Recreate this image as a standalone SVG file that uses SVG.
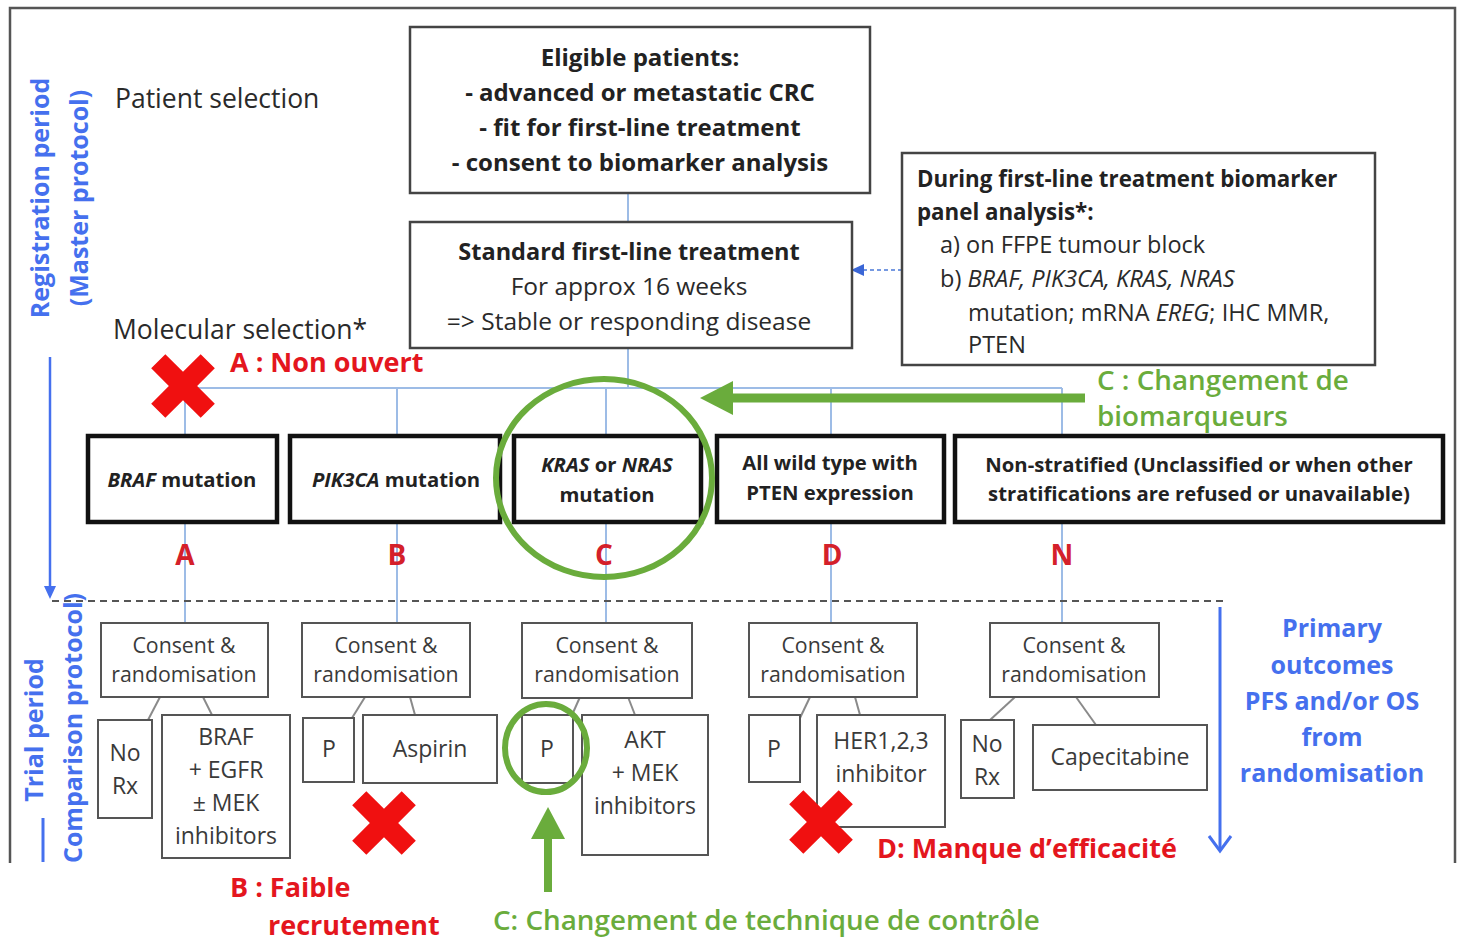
<svg xmlns="http://www.w3.org/2000/svg" width="1462" height="942" viewBox="0 0 1462 942">
  <style>
    text { font-family: "Open Sans", "Liberation Sans", sans-serif; }
    .frame { fill: none; stroke: #555; stroke-width: 2.5; }
    .box { fill: #fff; stroke: #444; stroke-width: 2.5; }
    .strat { fill: #fff; stroke: #111; stroke-width: 4.5; }
    .small { fill: #fff; stroke: #555; stroke-width: 2; }
    .link { fill: none; stroke: #9dbce6; stroke-width: 2; }
    .branch { fill: none; stroke: #8a8a8a; stroke-width: 2; }
    .t { fill: #2a2a2a; }
    .tb { fill: #222; font-weight: 700; }
    .tc { fill: #3a3a3a; font-size: 21.3px; }
    .ts { fill: #3a3a3a; font-size: 23px; }
    .tk { fill: #222; font-weight: 700; font-size: 20.3px; }
    .red { fill: #e4161e; font-weight: 700; font-size: 27px; }
    .letter { fill: #d4202a; font-weight: 700; font-size: 28px; text-anchor: middle; }
    .green { fill: #6aac3c; font-size: 27.8px; font-weight: 600; }
    .blue { fill: #4570ee; font-weight: 700; font-size: 25px; }
    .mid { text-anchor: middle; }
  </style>
  <defs>
    <!-- heavy red cross -->
    <polygon id="cross" fill="#f01010" points="-10,-35 10,-35 10,-10 35,-10 35,10 10,10 10,35 -10,35 -10,10 -35,10 -35,-10 -10,-10" transform="rotate(45)"/>
  </defs>

  <rect width="1462" height="942" fill="#fff"/>

  <!-- outer frame (open at the bottom) -->
  <polyline class="frame" points="10,863 10,8 1455,8 1455,863"/>

  <!-- side labels -->
  <g id="side-labels">
    <text class="blue" transform="translate(49,198) rotate(-90)" text-anchor="middle" font-size="24.7">Registration period</text>
    <text class="blue" transform="translate(88,198) rotate(-90)" text-anchor="middle" font-size="24.7">(Master protocol)</text>
    <text class="blue" transform="translate(43,730) rotate(-90)" text-anchor="middle" font-size="24">Trial period</text>
    <line x1="43" y1="818" x2="43" y2="862" stroke="#4570ee" stroke-width="3"/>
    <text class="blue" transform="translate(82,728) rotate(-90)" text-anchor="middle" font-size="24">Comparison protocol)</text>
    <text class="t" x="115" y="108" font-size="26.5">Patient selection</text>
    <text class="t" x="113" y="339" font-size="26.5">Molecular selection*</text>
  </g>

  <!-- connectors -->
  <g id="connectors">
    <line class="link" x1="628" y1="193" x2="628" y2="222"/>
    <line class="link" x1="628" y1="348" x2="628" y2="388"/>
    <line class="link" x1="185" y1="388" x2="1062" y2="388"/>
    <line class="link" x1="185" y1="388" x2="185" y2="625"/>
    <line class="link" x1="397" y1="388" x2="397" y2="625"/>
    <line class="link" x1="606" y1="388" x2="606" y2="625"/>
    <line class="link" x1="831" y1="388" x2="831" y2="625"/>
    <line class="link" x1="1062" y1="388" x2="1062" y2="625"/>
    <!-- biomarker panel feeds the first-line treatment -->
    <line x1="902" y1="270" x2="862" y2="270" stroke="#4a78d8" stroke-width="1.5" stroke-dasharray="4 3"/>
    <polygon points="851,270 864,264 864,276" fill="#3a66d6"/>
    <!-- randomisation branches -->
    <line class="branch" x1="160" y1="697" x2="148" y2="720"/>
    <line class="branch" x1="203" y1="697" x2="212" y2="715"/>
    <line class="branch" x1="365" y1="697" x2="352" y2="718"/>
    <line class="branch" x1="410" y1="697" x2="415" y2="715"/>
    <line class="branch" x1="580" y1="697" x2="572" y2="715"/>
    <line class="branch" x1="628" y1="697" x2="635" y2="715"/>
    <line class="branch" x1="810" y1="697" x2="800" y2="718"/>
    <line class="branch" x1="855" y1="697" x2="860" y2="715"/>
    <line class="branch" x1="1015" y1="697" x2="990" y2="720"/>
    <line class="branch" x1="1076" y1="697" x2="1096" y2="725"/>
    <!-- period separator -->
    <line x1="52" y1="601" x2="1226" y2="601" stroke="#555" stroke-width="2" stroke-dasharray="7 5"/>
    <!-- period arrows -->
    <line x1="50" y1="357" x2="50" y2="590" stroke="#4570ee" stroke-width="2.5"/>
    <polygon points="50,599 44,586 56,586" fill="#4570ee"/>
    <line x1="1220" y1="607" x2="1220" y2="850" stroke="#4570ee" stroke-width="3"/>
    <polyline points="1209,836 1220,851 1231,836" fill="none" stroke="#4570ee" stroke-width="3"/>
  </g>

  <g id="eligible">
    <rect class="box" x="410" y="27" width="460" height="166"/>
    <text class="tb mid" x="640" y="66" font-size="24">Eligible patients:</text>
    <text class="tb mid" x="640" y="101" font-size="24">- advanced or metastatic CRC</text>
    <text class="tb mid" x="640" y="136" font-size="24">- fit for first-line treatment</text>
    <text class="tb mid" x="640" y="171" font-size="24">- consent to biomarker analysis</text>
  </g>

  <g id="standard">
    <rect class="box" x="410" y="222" width="442" height="126"/>
    <text class="tb mid" x="629" y="260" font-size="23.5">Standard first-line treatment</text>
    <text class="t mid" x="629" y="295" font-size="24.5">For approx 16 weeks</text>
    <text class="t mid" x="629" y="330" font-size="24.5">=&gt; Stable or responding disease</text>
  </g>

  <g id="biomarker">
    <rect class="box" x="902" y="153" width="473" height="212"/>
    <text class="tb" x="917" y="187" font-size="22.3">During first-line treatment biomarker</text>
    <text class="tb" x="917" y="220" font-size="22.3">panel analysis*:</text>
    <text class="t" x="940" y="253" font-size="23.5">a) on FFPE tumour block</text>
    <text class="t" x="940" y="287" font-size="23.5">b) <tspan font-style="italic">BRAF, PIK3CA, KRAS, NRAS</tspan></text>
    <text class="t" x="968" y="321" font-size="23.5">mutation; mRNA <tspan font-style="italic">EREG</tspan>; IHC MMR,</text>
    <text class="t" x="968" y="353" font-size="23.5">PTEN</text>
  </g>

  <!-- stratification groups -->
  <g id="braf">
    <rect class="strat" x="88" y="436" width="189" height="86"/>
    <text class="tk mid" x="182" y="487"><tspan font-style="italic">BRAF</tspan> mutation</text>
  </g>
  <g id="pik3ca">
    <rect class="strat" x="290" y="436" width="210" height="86"/>
    <text class="tk mid" x="396" y="487"><tspan font-style="italic">PIK3CA</tspan> mutation</text>
  </g>
  <g id="kras">
    <rect class="strat" x="514" y="436" width="187" height="86"/>
    <text class="tk mid" x="607" y="472"><tspan font-style="italic">KRAS</tspan> or <tspan font-style="italic">NRAS</tspan></text>
    <text class="tk mid" x="607" y="502">mutation</text>
  </g>
  <g id="wildtype">
    <rect class="strat" x="717" y="436" width="227" height="86"/>
    <text class="tk mid" x="830" y="470">All wild type with</text>
    <text class="tk mid" x="830" y="500">PTEN expression</text>
  </g>
  <g id="nonstratified">
    <rect class="strat" x="955" y="436" width="488" height="86"/>
    <text class="tk mid" x="1199" y="472">Non-stratified (Unclassified or when other</text>
    <text class="tk mid" x="1199" y="501">stratifications are refused or unavailable)</text>
  </g>

  <!-- comparison letters -->
  <g id="letters">
    <text class="letter" x="185" y="565">A</text>
    <text class="letter" x="397" y="565">B</text>
    <text class="letter" x="604" y="565">C</text>
    <text class="letter" x="832" y="565">D</text>
    <text class="letter" x="1062" y="565">N</text>
  </g>

  <!-- comparison A -->
  <g id="consent-a">
    <rect class="small" x="101" y="623" width="167" height="74"/>
    <text class="tc mid" x="184" y="653">Consent &amp;</text>
    <text class="tc mid" x="184" y="682">randomisation</text>
  </g>
  <g id="a-norx">
    <rect class="small" x="98" y="720" width="54" height="98"/>
    <text class="ts mid" x="125" y="761">No</text>
    <text class="ts mid" x="125" y="794">Rx</text>
  </g>
  <g id="a-braf">
    <rect class="small" x="162" y="715" width="128" height="143"/>
    <text class="ts mid" x="226" y="745">BRAF</text>
    <text class="ts mid" x="226" y="778">+ EGFR</text>
    <text class="ts mid" x="226" y="811">± MEK</text>
    <text class="ts mid" x="226" y="844">inhibitors</text>
  </g>

  <!-- comparison B -->
  <g id="consent-b">
    <rect class="small" x="302" y="623" width="168" height="74"/>
    <text class="tc mid" x="386" y="653">Consent &amp;</text>
    <text class="tc mid" x="386" y="682">randomisation</text>
  </g>
  <g id="b-placebo">
    <rect class="small" x="303" y="718" width="51" height="64"/>
    <text class="ts mid" x="329" y="757">P</text>
  </g>
  <g id="b-aspirin">
    <rect class="small" x="363" y="715" width="134" height="68"/>
    <text class="ts mid" x="430" y="757">Aspirin</text>
  </g>

  <!-- comparison C -->
  <g id="consent-c">
    <rect class="small" x="522" y="623" width="170" height="75"/>
    <text class="tc mid" x="607" y="653">Consent &amp;</text>
    <text class="tc mid" x="607" y="682">randomisation</text>
  </g>
  <g id="c-placebo">
    <rect class="small" x="522" y="715" width="51" height="68"/>
    <text class="ts mid" x="547" y="757">P</text>
  </g>
  <g id="c-akt">
    <rect class="small" x="582" y="715" width="126" height="140"/>
    <text class="ts mid" x="645" y="748">AKT</text>
    <text class="ts mid" x="645" y="781">+ MEK</text>
    <text class="ts mid" x="645" y="814">inhibitors</text>
  </g>

  <!-- comparison D -->
  <g id="consent-d">
    <rect class="small" x="749" y="623" width="168" height="74"/>
    <text class="tc mid" x="833" y="653">Consent &amp;</text>
    <text class="tc mid" x="833" y="682">randomisation</text>
  </g>
  <g id="d-placebo">
    <rect class="small" x="749" y="715" width="51" height="67"/>
    <text class="ts mid" x="774" y="757">P</text>
  </g>
  <g id="d-her">
    <rect class="small" x="817" y="715" width="128" height="112"/>
    <text class="ts mid" x="881" y="749">HER1,2,3</text>
    <text class="ts mid" x="881" y="782">inhibitor</text>
  </g>

  <!-- comparison N -->
  <g id="consent-n">
    <rect class="small" x="990" y="623" width="169" height="74"/>
    <text class="tc mid" x="1074" y="653">Consent &amp;</text>
    <text class="tc mid" x="1074" y="682">randomisation</text>
  </g>
  <g id="n-norx">
    <rect class="small" x="961" y="720" width="53" height="78"/>
    <text class="ts mid" x="987" y="752">No</text>
    <text class="ts mid" x="987" y="785">Rx</text>
  </g>
  <g id="n-capecitabine">
    <rect class="small" x="1033" y="725" width="174" height="65"/>
    <text class="ts mid" x="1120" y="765">Capecitabine</text>
  </g>

  <!-- outcomes -->
  <g id="outcomes">
    <text class="blue mid" x="1332" y="637">Primary</text>
    <text class="blue mid" x="1332" y="674">outcomes</text>
    <text class="blue mid" x="1332" y="710">PFS and/or OS</text>
    <text class="blue mid" x="1332" y="746">from</text>
    <text class="blue mid" x="1332" y="782">randomisation</text>
  </g>

  <!-- annotations: closed arms -->
  <g id="closed-a">
    <use href="#cross" transform="translate(183,386)"/>
    <text class="red" x="230" y="372">A : Non ouvert</text>
  </g>
  <g id="closed-b">
    <use href="#cross" transform="translate(384,823)"/>
    <text class="red" x="230" y="897">B : Faible</text>
    <text class="red" x="268" y="935">recrutement</text>
  </g>
  <g id="closed-d">
    <use href="#cross" transform="translate(821,822)"/>
    <text class="red" x="877" y="858">D: Manque d’efficacité</text>
  </g>

  <!-- annotations: changes to arm C -->
  <g id="change-biomarkers">
    <ellipse cx="604" cy="478" rx="108" ry="99" fill="none" stroke="#6aac3c" stroke-width="6"/>
    <line x1="1085" y1="398" x2="728" y2="398" stroke="#6aac3c" stroke-width="9"/>
    <polygon points="700,398 733,381 733,415" fill="#6aac3c"/>
    <text class="green" x="1097" y="390">C : Changement de</text>
    <text class="green" x="1097" y="426">biomarqueurs</text>
  </g>
  <g id="change-control">
    <ellipse cx="546" cy="748" rx="41" ry="44" fill="none" stroke="#6aac3c" stroke-width="6"/>
    <line x1="548" y1="892" x2="548" y2="834" stroke="#6aac3c" stroke-width="8"/>
    <polygon points="548,807 531,839 565,839" fill="#6aac3c"/>
    <text class="green" x="493" y="930">C: Changement de technique de contrôle</text>
  </g>
</svg>
